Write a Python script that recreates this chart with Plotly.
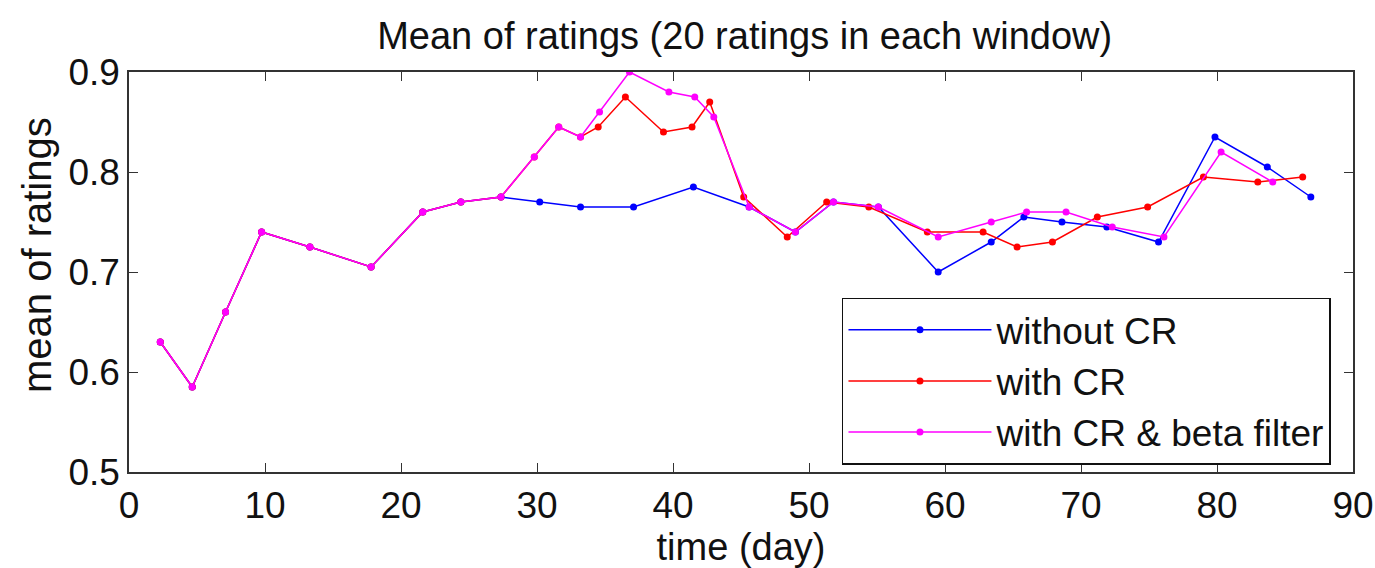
import plotly.graph_objects as go

# ---- data ----
x_blue = [2.3, 4.65, 7.1, 9.75, 13.3, 17.8, 21.6, 24.4, 27.35, 30.2, 33.2, 37.1, 41.5, 45.6,
          49.0, 51.8, 55.1, 59.5, 63.4, 65.8, 68.6, 71.9, 75.7, 79.85, 83.7, 86.9]
y_blue = [0.63, 0.585, 0.66, 0.74, 0.725, 0.705, 0.76, 0.77, 0.775, 0.77, 0.765, 0.765, 0.785, 0.765,
          0.74, 0.77, 0.765, 0.70, 0.73, 0.755, 0.75, 0.745, 0.73, 0.835, 0.805, 0.775]

x_red = [2.3, 4.65, 7.1, 9.75, 13.3, 17.8, 21.6, 24.4, 27.35, 29.8, 31.6, 33.2, 34.5, 36.5, 39.3,
         41.4, 42.7, 45.2, 48.4, 51.3, 54.4, 58.7, 62.8, 65.3, 67.9, 71.2, 74.9, 79.0, 83.0, 86.3]
y_red = [0.63, 0.585, 0.66, 0.74, 0.725, 0.705, 0.76, 0.77, 0.775, 0.815, 0.845, 0.835, 0.845, 0.875, 0.84,
         0.845, 0.87, 0.775, 0.735, 0.77, 0.765, 0.74, 0.74, 0.725, 0.73, 0.755, 0.765, 0.795, 0.79, 0.795]

x_mag = [2.3, 4.65, 7.1, 9.75, 13.3, 17.8, 21.6, 24.4, 27.35, 29.8, 31.6, 33.2, 34.6, 36.8, 39.7,
         41.6, 43.0, 45.6, 49.0, 51.8, 55.1, 59.5, 63.4, 66.0, 68.9, 72.3, 76.1, 80.3, 84.1]
y_mag = [0.63, 0.585, 0.66, 0.74, 0.725, 0.705, 0.76, 0.77, 0.775, 0.815, 0.845, 0.835, 0.86, 0.90, 0.88,
         0.875, 0.855, 0.765, 0.74, 0.77, 0.765, 0.735, 0.75, 0.76, 0.76, 0.745, 0.735, 0.82, 0.79]

names = ["without CR", "with CR", "with CR &amp; beta filter"]
colors = ["#0000ff", "#ff0000", "#ff00ff"]

x_ticks = [0, 10, 20, 30, 40, 50, 60, 70, 80, 90]
y_ticks = [0.5, 0.6, 0.7, 0.8, 0.9]

FONT = "Arial, 'Liberation Sans', sans-serif"

fig = go.Figure()
for xs, ys, nm, c in zip([x_blue, x_red, x_mag], [y_blue, y_red, y_mag], names, colors):
    fig.add_trace(go.Scatter(
        x=xs, y=ys, name=nm, mode="lines+markers",
        line=dict(color=c, width=1.5),
        marker=dict(color=c, size=7),
    ))

axis_common = dict(
    showline=True, linecolor="#333333", linewidth=1.5, mirror="allticks",
    ticks="inside", ticklen=9, tickwidth=1.2, tickcolor="#333333",
    showgrid=False, zeroline=False, automargin=False,
    tickfont=dict(family=FONT, size=37, color="#111111"),
)

fig.update_layout(
    width=1375, height=568,
    margin=dict(l=129, r=22, t=72, b=96, autoexpand=False),
    paper_bgcolor="white", plot_bgcolor="white",
    title=dict(text="Mean of ratings (20 ratings in each window)",
               font=dict(family=FONT, size=38, color="#111111"),
               x=0.503, xanchor="center", xref="paper", y=1 - 36 / 568, yanchor="middle", yref="container"),
    xaxis=dict(range=[0, 90], tickvals=x_ticks,
               title=dict(text="time (day)", font=dict(family=FONT, size=38, color="#111111"), standoff=10),
               **axis_common),
    yaxis=dict(range=[0.5, 0.9], tickvals=y_ticks, tickformat=".1f", **axis_common),
    annotations=[dict(text="mean of ratings", textangle=-90, showarrow=False,
                      xref="paper", yref="paper", x=(37 - 129) / 1224, y=(472 - 255) / 400,
                      xanchor="center", yanchor="middle",
                      font=dict(family=FONT, size=40, color="#111111"))],
    legend=dict(x=0.982, xanchor="right", y=0.018, yanchor="bottom",
                bgcolor="white", bordercolor="#111111", borderwidth=1.5,
                font=dict(family=FONT, size=37, color="#111111"),
                itemwidth=143, tracegroupgap=0),
    showlegend=True,
)

fig.write_html("out.html", config={"displayModeBar": False},
               post_script="document.body.style.margin='0';")
